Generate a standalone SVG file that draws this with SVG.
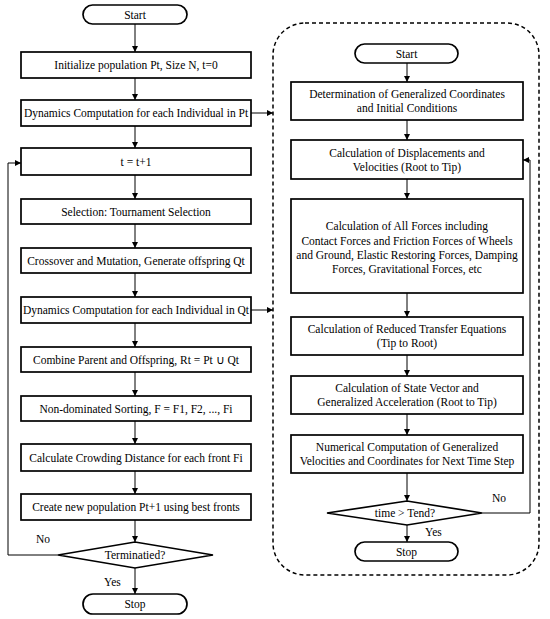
<svg xmlns="http://www.w3.org/2000/svg" width="550" height="619" viewBox="0 0 550 619">
<style>
.b{fill:#fff;stroke:#000;stroke-width:1.7}
.t{font-family:"Liberation Serif","Times New Roman",serif;font-size:11.5px;fill:#000;text-anchor:middle}
.l{font-family:"Liberation Serif","Times New Roman",serif;font-size:11.5px;fill:#000}
.c{fill:none;stroke:#000;stroke-width:1}
</style>
<defs>
<marker id="a" viewBox="0 0 10 10" refX="10" refY="5" markerWidth="6" markerHeight="6" orient="auto" markerUnits="userSpaceOnUse">
<path d="M0,0 L10,5 L0,10 z" fill="#000"/>
</marker>
</defs>
<rect x="0" y="0" width="550" height="619" fill="#fff"/>
<g id="panel">
<rect x="273" y="23" width="266" height="552" rx="32" ry="32" fill="none" stroke="#000" stroke-width="1.5" stroke-dasharray="4,3"/>
</g>
<g id="connectors">
<path class="c" marker-end="url(#a)" d="M135,24 V52"/>
<path class="c" marker-end="url(#a)" d="M135,78 V100"/>
<path class="c" marker-end="url(#a)" d="M135,126 V148"/>
<path class="c" marker-end="url(#a)" d="M135,175 V199"/>
<path class="c" marker-end="url(#a)" d="M135,224 V248"/>
<path class="c" marker-end="url(#a)" d="M135,273 V297"/>
<path class="c" marker-end="url(#a)" d="M135,323 V347"/>
<path class="c" marker-end="url(#a)" d="M135,372 V396"/>
<path class="c" marker-end="url(#a)" d="M135,421 V444"/>
<path class="c" marker-end="url(#a)" d="M135,471 V494"/>
<path class="c" marker-end="url(#a)" d="M135,520 V542"/>
<path class="c" marker-end="url(#a)" d="M135,568 V594"/>
<path class="c" marker-end="url(#a)" d="M58,555 H8 V163 H21"/>
<path class="c" marker-end="url(#a)" d="M251,113 H273"/>
<path class="c" marker-end="url(#a)" d="M251,310 H273"/>
<path class="c" marker-end="url(#a)" d="M407,63 V82"/>
<path class="c" marker-end="url(#a)" d="M407,120 V140"/>
<path class="c" marker-end="url(#a)" d="M407,179 V199"/>
<path class="c" marker-end="url(#a)" d="M407,293 V317"/>
<path class="c" marker-end="url(#a)" d="M407,355 V376"/>
<path class="c" marker-end="url(#a)" d="M407,414 V435"/>
<path class="c" marker-end="url(#a)" d="M407,473 V501"/>
<path class="c" marker-end="url(#a)" d="M407,525 V542"/>
<path class="c" marker-end="url(#a)" d="M482,513 H530 V160 H523"/>
</g>
<g id="start1"><rect class="b" x="83" y="5" width="104" height="19" rx="9.5"/><text class="t" x="135" y="18.5">Start</text></g>
<g id="init"><rect class="b" x="21" y="52" width="230" height="26"/><text class="t" x="136" y="69">Initialize population Pt, Size N, t=0</text></g>
<g id="dynpt"><rect class="b" x="21" y="100" width="230" height="26"/><text class="t" x="136" y="117">Dynamics Computation for each Individual in Pt</text></g>
<g id="tinc"><rect class="b" x="21" y="148" width="230" height="27"/><text class="t" x="136" y="166">t = t+1</text></g>
<g id="sel"><rect class="b" x="21" y="199" width="230" height="25"/><text class="t" x="136" y="215.5">Selection: Tournament Selection</text></g>
<g id="cross"><rect class="b" x="21" y="248" width="230" height="25"/><text class="t" x="136" y="264.5">Crossover and Mutation, Generate offspring Qt</text></g>
<g id="dynqt"><rect class="b" x="21" y="297" width="230" height="26"/><text class="t" x="136" y="314">Dynamics Computation for each Individual in  Qt</text></g>
<g id="comb"><rect class="b" x="21" y="347" width="230" height="25"/><text class="t" x="136" y="363.5">Combine Parent and Offspring, Rt = Pt ∪ Qt</text></g>
<g id="nds"><rect class="b" x="21" y="396" width="230" height="25"/><text class="t" x="136" y="412.5">Non-dominated Sorting, F = F1, F2, ..., Fi</text></g>
<g id="crowd"><rect class="b" x="21" y="444" width="230" height="27"/><text class="t" x="136" y="461.5">Calculate Crowding Distance for each front Fi</text></g>
<g id="newpop"><rect class="b" x="21" y="494" width="230" height="26"/><text class="t" x="136" y="511">Create new population Pt+1 using best fronts</text></g>
<g id="term"><polygon class="b" points="58,555 135,542 213,555 135,568"/><text class="t" x="135" y="559">Terminatied?</text></g>
<g id="stop1"><rect class="b" x="83" y="594" width="104" height="20" rx="10"/><text class="t" x="135" y="608">Stop</text></g>
<text class="l" x="36" y="543">No</text>
<text class="l" x="104" y="586">Yes</text>
<g id="start2"><rect class="b" x="355" y="44" width="103" height="19" rx="9.5"/><text class="t" x="406.5" y="57.5">Start</text></g>
<g id="det"><rect class="b" x="291" y="82" width="232" height="38"/><text class="t" x="407" y="98">Determination of Generalized Coordinates</text><text class="t" x="407" y="112">and Initial Conditions</text></g>
<g id="disp"><rect class="b" x="291" y="140" width="232" height="39"/><text class="t" x="407" y="157">Calculation of Displacements and</text><text class="t" x="407" y="171">Velocities (Root to Tip)</text></g>
<g id="forces"><rect class="b" x="291" y="199" width="232" height="94"/><text class="t" x="407" y="230">Calculation of All Forces including</text><text class="t" x="407" y="244.5">Contact Forces and Friction Forces of Wheels</text><text class="t" x="407" y="258.5">and Ground, Elastic Restoring Forces, Damping</text><text class="t" x="407" y="273">Forces, Gravitational Forces, etc</text></g>
<g id="reduced"><rect class="b" x="291" y="317" width="232" height="38"/><text class="t" x="407" y="333">Calculation of Reduced Transfer Equations</text><text class="t" x="407" y="347">(Tip to Root)</text></g>
<g id="state"><rect class="b" x="291" y="376" width="232" height="38"/><text class="t" x="407" y="392">Calculation of State Vector and</text><text class="t" x="407" y="406">Generalized Acceleration (Root to Tip)</text></g>
<g id="numer"><rect class="b" x="291" y="435" width="232" height="38"/><text class="t" x="407" y="451">Numerical Computation of  Generalized</text><text class="t" x="407" y="465">Velocities and  Coordinates for Next Time Step</text></g>
<g id="timed"><polygon class="b" points="327,513 407,501 482,513 407,525"/><text class="t" x="405" y="517">time &gt; Tend?</text></g>
<g id="stop2"><rect class="b" x="355" y="542" width="103" height="19" rx="9.5"/><text class="t" x="406.5" y="555.5">Stop</text></g>
<text class="l" x="492" y="502">No</text>
<text class="l" x="425" y="536">Yes</text>
</svg>
